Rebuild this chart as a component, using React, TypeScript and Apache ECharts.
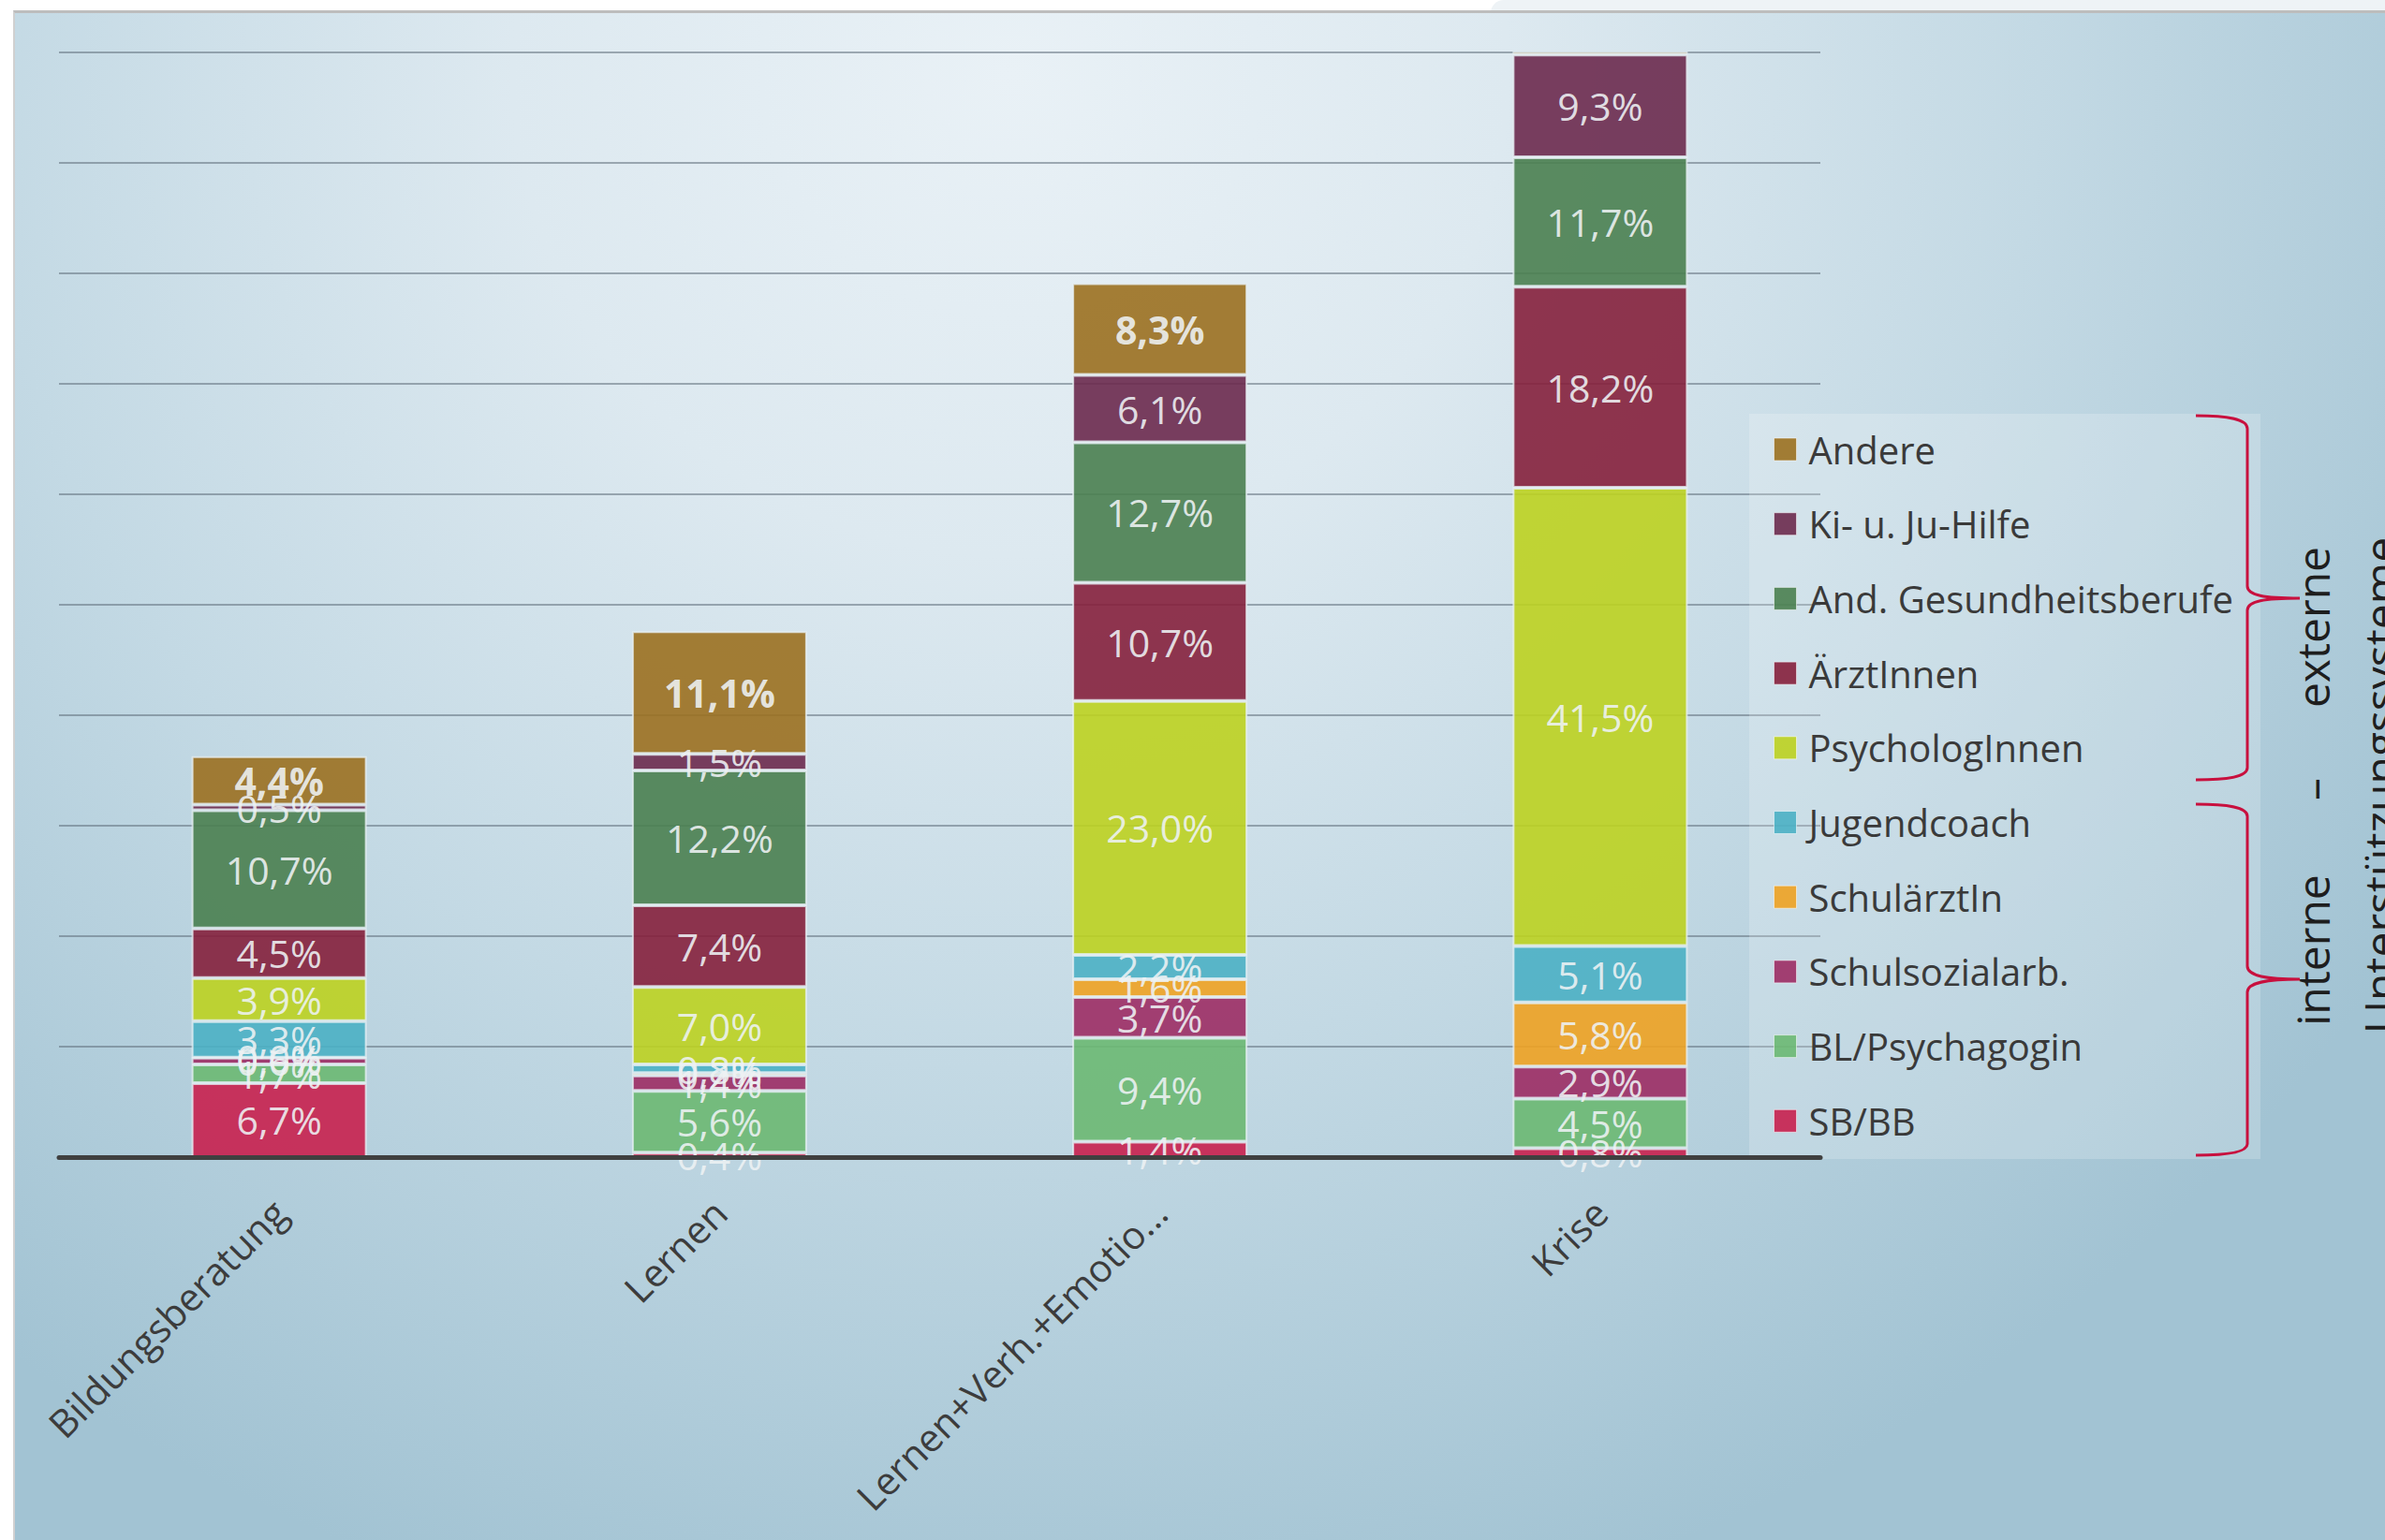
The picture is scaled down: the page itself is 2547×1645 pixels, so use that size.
import React, { useEffect, useRef } from "react";
import * as echarts from "echarts";

const categories = ["Bildungsberatung", "Lernen", "Lernen+Verh.+Emotio...", "Krise"];

const seriesNames = [
  "SB/BB",
  "BL/Psychagogin",
  "Schulsozialarb.",
  "SchulärztIn",
  "Jugendcoach",
  "PsychologInnen",
  "ÄrztInnen",
  "And. Gesundheitsberufe",
  "Ki- u. Ju-Hilfe",
  "Andere",
];

const sbBB = [6.7, 0.4, 1.4, 0.8];
const blPsychagogin = [1.7, 5.6, 9.4, 4.5];
const schulsozialarb = [0.6, 1.4, 3.7, 2.9];
const schularztIn = [0.0, 0.2, 1.6, 5.8];
const jugendcoach = [3.3, 0.8, 2.2, 5.1];
const psychologInnen = [3.9, 7.0, 23.0, 41.5];
const arztInnen = [4.5, 7.4, 10.7, 18.2];
const andGesundheitsberufe = [10.7, 12.2, 12.7, 11.7];
const kiJuHilfe = [0.5, 1.5, 6.1, 9.3];
const andere = [4.4, 11.1, 8.3, 0.3];

const seriesValues = [
  sbBB,
  blPsychagogin,
  schulsozialarb,
  schularztIn,
  jugendcoach,
  psychologInnen,
  arztInnen,
  andGesundheitsberufe,
  kiJuHilfe,
  andere,
];

const seriesColors = [
  "#c8204e",
  "#6cb872",
  "#9c2c64",
  "#eea222",
  "#4bb0c4",
  "#bdd120",
  "#85203c",
  "#4a8050",
  "#6b2a4e",
  "#9b7020",
];

const FONT = "'Open Sans', 'Noto Sans', sans-serif";

const braceTopD =
  "M 2345 444 C 2378 444 2400 447 2400 458 L 2400 626 C 2400 636 2418 639 2456 639 C 2418 639 2400 642 2400 652 L 2400 820 C 2400 830 2378 833 2345 833";
const braceBottomD =
  "M 2345 859 C 2378 859 2400 862 2400 872 L 2400 1032 C 2400 1042 2418 1046 2456 1046 C 2418 1046 2400 1050 2400 1060 L 2400 1222 C 2400 1231 2378 1234 2345 1234";

echarts.graphic.registerShape("braceTop", echarts.graphic.extendPath(braceTopD, {}));
echarts.graphic.registerShape("braceBottom", echarts.graphic.extendPath(braceBottomD, {}));

const fmt = (v: number) => v.toFixed(1).replace(".", ",") + "%";

export default function App() {
  const ref = useRef<HTMLDivElement>(null);

  useEffect(() => {
    if (!ref.current) return;
    const chart = echarts.init(ref.current, null, { renderer: "svg" });

    const series = seriesNames.map((name, i) => ({
      name,
      type: "bar",
      stack: "total",
      barWidth: 187,
      data: seriesValues[i],
      itemStyle: {
        color: seriesColors[i],
        opacity: 0.9,
        borderColor: "rgba(232,240,244,0.85)",
        borderWidth: 2,
      },
      label: {
        show: true,
        position: "inside",
        color: "#eef2f4",
        fontSize: 41,
        fontFamily: FONT,
        fontWeight: name === "Andere" ? "bold" : "normal",
        formatter: (p: any) =>
          p.seriesName === "Andere" && p.value < 1 ? "" : fmt(p.value),
      },
      emphasis: { disabled: true },
    }));

    const option = {
      animation: false,
      backgroundColor: "transparent",
      grid: { left: 63, right: 603, top: 56, bottom: 409, containLabel: false },
      xAxis: {
        type: "category",
        data: categories,
        axisTick: { show: false },
        axisLine: { lineStyle: { color: "#404040", width: 5 } },
        axisLabel: {
          interval: 0,
          rotate: 45,
          fontSize: 41,
          color: "#3c3c3c",
          fontFamily: FONT,
          margin: 52,
        },
        z: 3,
      },
      yAxis: {
        type: "value",
        min: 0,
        max: 100,
        interval: 10,
        axisLabel: { show: false },
        axisLine: { show: false },
        axisTick: { show: false },
        splitLine: { lineStyle: { color: "rgba(95,110,122,0.55)", width: 2 } },
      },
      legend: {
        orient: "vertical",
        left: 1889,
        top: 455,
        itemWidth: 24,
        itemHeight: 24,
        itemGap: 39.7,
        icon: "rect",
        selectedMode: false,
        data: [...seriesNames].reverse(),
        itemStyle: { borderColor: "rgba(255,255,255,0.6)", borderWidth: 1 },
        textStyle: {
          fontSize: 40,
          lineHeight: 40,
          color: "#3a3a3a",
          fontFamily: FONT,
          padding: [0, 0, 0, 8],
        },
      },
      graphic: [
        {
          type: "rect",
          z: 1,
          shape: { x: 1868, y: 442, width: 546, height: 796 },
          style: { fill: "rgba(255,255,255,0.2)" },
        },
        {
          type: "braceTop",
          x: 0,
          y: 0,
          z: 5,
          style: { stroke: "#c8103e", lineWidth: 3, fill: "none" },
        },
        {
          type: "braceBottom",
          x: 0,
          y: 0,
          z: 5,
          style: { stroke: "#c8103e", lineWidth: 3, fill: "none" },
        },
        {
          type: "text",
          x: 2469,
          y: 670,
          rotation: Math.PI / 2,
          z: 5,
          style: {
            text: "externe",
            fontSize: 48,
            fontFamily: FONT,
            fill: "#1e1e1e",
            textAlign: "center",
            textVerticalAlign: "middle",
          },
        },
        {
          type: "text",
          x: 2469,
          y: 843,
          rotation: Math.PI / 2,
          z: 5,
          style: {
            text: "–",
            fontSize: 48,
            fontFamily: FONT,
            fill: "#1e1e1e",
            textAlign: "center",
            textVerticalAlign: "middle",
          },
        },
        {
          type: "text",
          x: 2469,
          y: 1015,
          rotation: Math.PI / 2,
          z: 5,
          style: {
            text: "interne",
            fontSize: 48,
            fontFamily: FONT,
            fill: "#1e1e1e",
            textAlign: "center",
            textVerticalAlign: "middle",
          },
        },
        {
          type: "text",
          x: 2541,
          y: 839,
          rotation: Math.PI / 2,
          z: 5,
          style: {
            text: "Unterstützungssysteme",
            fontSize: 48,
            fontFamily: FONT,
            fill: "#1e1e1e",
            textAlign: "center",
            textVerticalAlign: "middle",
          },
        },
      ],
      series,
    };

    chart.setOption(option as any);
    return () => chart.dispose();
  }, []);

  return (
    <div
      style={{
        position: "fixed",
        left: 0,
        top: 0,
        width: 2547,
        height: 1645,
        background: "#ffffff",
        overflow: "hidden",
      }}
    >
      <div
        style={{
          position: "absolute",
          left: 1592,
          top: 0,
          width: 955,
          height: 14,
          background: "#eef3f6",
          borderTopLeftRadius: 30,
        }}
      />
      <div
        style={{
          position: "absolute",
          left: 14,
          top: 11,
          right: 0,
          bottom: 0,
          borderTop: "3px solid #bdbdbd",
          borderLeft: "2px solid #d0d0d0",
          background:
            "radial-gradient(ellipse 70% 105% at 42% 4%, #e9f1f6 0%, #dde9f0 30%, #c3d9e4 62%, #a2c3d3 100%)",
        }}
      />
      <div
        ref={ref}
        style={{ position: "absolute", left: 0, top: 0, width: 2547, height: 1645 }}
      />
    </div>
  );
}
